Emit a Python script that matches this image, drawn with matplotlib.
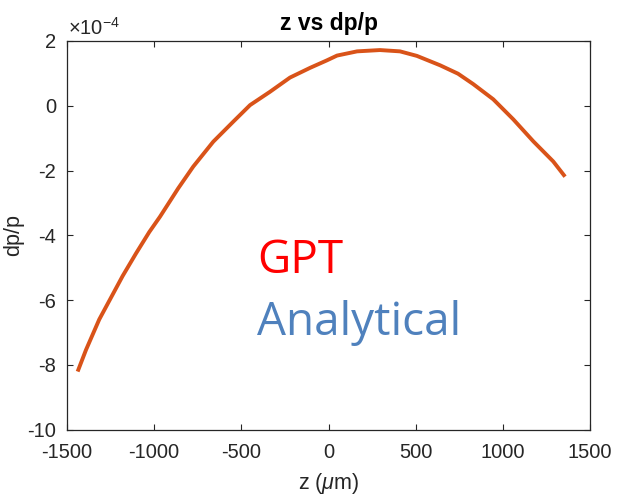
import matplotlib
matplotlib.use("Agg")
import matplotlib.pyplot as plt

# values (dp/p in units of 1e-4)
z_um = [-1439, -1391, -1315, -1258, -1181, -1104, -1028, -967, -862, -776,
        -661, -546, -450, -336, -221, -106, -10, 49, 164, 295,
        410, 507, 640, 743, 830, 945, 1060, 1175, 1289, 1357]
dpp = [-8.21, -7.54, -6.60, -6.03, -5.26, -4.56, -3.90, -3.43, -2.55, -1.88,
       -1.11, -0.49, 0.02, 0.43, 0.87, 1.17, 1.40, 1.55, 1.68, 1.72,
       1.68, 1.54, 1.25, 0.99, 0.67, 0.20, -0.42, -1.10, -1.72, -2.19]

x_ticks = [-1500, -1000, -500, 0, 500, 1000, 1500]
y_ticks = [-10, -8, -6, -4, -2, 0, 2]

plt.rcParams["font.family"] = ["Liberation Sans", "DejaVu Sans"]
plt.rcParams["axes.unicode_minus"] = False
plt.rcParams["mathtext.fontset"] = "custom"
plt.rcParams["mathtext.rm"] = "Liberation Sans"
plt.rcParams["mathtext.it"] = "Liberation Sans:italic"

dark = "#262626"

fig = plt.figure(figsize=(6.34, 5.04), dpi=100)
ax = fig.add_axes([67 / 634, 1 - 429.5 / 504, (590 - 67) / 634, (429.5 - 41) / 504])

ax.plot(z_um, dpp, color="#D95319", linewidth=2.8,
        solid_joinstyle="round", solid_capstyle="butt")

ax.set_xlim(-1500, 1500)
ax.set_ylim(-10, 2)
ax.set_xticks(x_ticks)
ax.set_yticks(y_ticks)
ax.tick_params(direction="in", top=True, right=True, length=4, width=0.8,
               colors=dark, labelsize=14.5)
ax.tick_params(axis="x", pad=10)
ax.tick_params(axis="y", pad=8)
for s in ax.spines.values():
    s.set_color(dark)
    s.set_linewidth(0.9)

ax.set_title("z vs dp/p", fontsize=16.5, fontweight="bold", pad=8)
ax.set_xlabel(r"z ($\mu$m)", fontsize=15.5, color=dark, labelpad=6)
ax.set_ylabel("dp/p", fontsize=15.5, color=dark, labelpad=2)

# MATLAB style exponent label
fig.text(68 / 634, 1 - 35 / 504, r"$\times10^{-4}$", fontsize=14.5, color=dark,
         va="baseline", ha="left")

# overlaid legend-like text
fig.text(257 / 634, 1 - 273 / 504, "GPT", fontsize=33, color="#FF0000",
         family="Open Sans", va="baseline", ha="left")
fig.text(257 / 634, 1 - 335 / 504, "Analytical", fontsize=33, color="#4F81BD",
         family="Open Sans", va="baseline", ha="left")

fig.savefig("out.png", dpi=100)
plt.close(fig)
